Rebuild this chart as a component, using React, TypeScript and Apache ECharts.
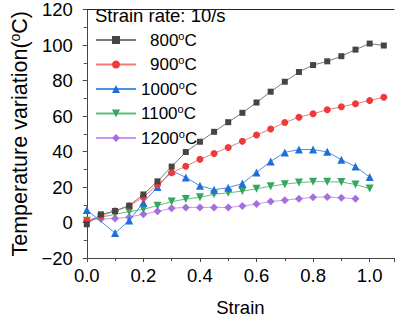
import React, { useEffect, useRef } from "react";
import * as echarts from "echarts";

const FONT = '"Liberation Sans", Arial, sans-serif';

const strain = [0, 0.05, 0.1, 0.15, 0.2, 0.25, 0.3, 0.35, 0.4, 0.45, 0.5, 0.55, 0.6, 0.65, 0.7, 0.75, 0.8, 0.85, 0.9, 0.95, 1.0, 1.05];

const t800 = [-1, 4.6, 6.5, 9.5, 15.8, 23.2, 31.5, 39.7, 45.5, 51.1, 56.5, 61.8, 67.6, 73.7, 79.3, 84.8, 88.7, 90.8, 93.7, 97.4, 100.8, 99.7];
const t900 = [1, 3.7, 6.5, 9.3, 14.3, 21.3, 28, 31.7, 35.6, 38.9, 42.3, 45.8, 49.3, 52.7, 56.3, 59.3, 61.3, 63.5, 65.2, 66.9, 68.7, 70.6];
const t1000 = [7, null, -5.9, 1.1, 11.3, 20, 29.2, 25.4, 20.7, 18.5, 19.6, 22, 28.2, 34.4, 39.5, 41.1, 41.1, 39.8, 35.4, 31.5, 25.6];
const t1100 = [1, 3, 4.6, 6.1, 7.5, 9.5, 11.8, 13.2, 14.2, 15.9, 16.7, 17.7, 19, 20.4, 21.6, 22.5, 23, 23, 22.8, 21.4, 19.1];
const t1200 = [1, 2, 2.2, 3, 4.7, 6.3, 8, 8.5, 8.5, 8.5, 8.5, 9.3, 10.4, 11.8, 12.6, 13.4, 14.2, 14.4, 13.9, 13.4];

const seriesNames = ["800°C", "900°C", "1000°C", "1100°C", "1200°C"];
const seriesValues = [t800, t900, t1000, t1100, t1200];
const yTicks = { min: -20, max: 120, interval: 20 };
const xTicks = { min: 0, max: 1.086, interval: 0.2 };

const styles = [
  { symbol: "rect", size: 6, line: "#7a7a7a", mark: "#454545" },
  { symbol: "circle", size: 7, line: "#f27a7a", mark: "#ee3a3a" },
  { symbol: "triangle", size: 8, line: "#4f8ee6", mark: "#1f6edb" },
  { symbol: "path://M0,0 L10,0 L5,10 Z", size: 8, line: "#5fbf80", mark: "#34a660" },
  { symbol: "diamond", size: 8, line: "#c49af0", mark: "#a66fe0" },
];

function toPairs(vals: (number | null)[]) {
  const out: [number, number][] = [];
  vals.forEach((v, i) => {
    if (v !== null && v !== undefined) out.push([strain[i], v]);
  });
  return out;
}

export default function App() {
  const ref = useRef<HTMLDivElement>(null);
  useEffect(() => {
    const chart = echarts.init(ref.current!, null, { renderer: "svg" });
    const option: any = {
      animation: false,
      textStyle: { fontFamily: FONT },
      grid: { left: 85, top: 6, right: 1, bottom: 63 },
      xAxis: [
        {
          type: "value",
          min: xTicks.min,
          max: xTicks.max,
          interval: xTicks.interval,
          name: "Strain",
          nameLocation: "middle",
          nameGap: 40,
          nameTextStyle: { fontSize: 18.5, color: "#000", fontFamily: FONT },
          axisLine: { show: true, onZero: false, lineStyle: { color: "#444", width: 1 } },
          axisTick: { show: true, inside: false, length: 4, lineStyle: { color: "#444" } },
          minorTick: { show: true, splitNumber: 2, length: 3, lineStyle: { color: "#444" } },
          axisLabel: {
            fontSize: 18.5,
            color: "#000",
            margin: 8,
            fontFamily: FONT,
            showMaxLabel: false,
            formatter: (v: number) => v.toFixed(1),
          },
          splitLine: { show: false },
        },
        {
          type: "value",
          position: "top",
          min: xTicks.min,
          max: xTicks.max,
          axisLine: { show: true, onZero: false, lineStyle: { color: "#222", width: 1 } },
          axisTick: { show: false },
          axisLabel: { show: false },
          splitLine: { show: false },
        },
      ],
      yAxis: {
        type: "value",
        min: yTicks.min,
        max: yTicks.max,
        interval: yTicks.interval,
        name: "{a|Temperature variation(}{s|o}{a|C)}",
        nameLocation: "middle",
        nameGap: 53,
        nameTextStyle: {
          color: "#000",
          fontFamily: FONT,
          rich: {
            a: { fontSize: 21.5, color: "#000", fontFamily: FONT, lineHeight: 23 },
            s: { fontSize: 14, color: "#000", fontFamily: FONT, lineHeight: 14, verticalAlign: "top" },
          },
        },
        axisLine: { show: true, onZero: false, lineStyle: { color: "#444", width: 1 } },
        axisTick: { show: true, inside: false, length: 4, lineStyle: { color: "#444" } },
        minorTick: { show: true, splitNumber: 2, length: 3, lineStyle: { color: "#444" } },
        axisLabel: {
          fontSize: 18.5,
          color: "#000",
          margin: 14,
          fontFamily: FONT,
          formatter: (v: number) => String(v).replace("-", "\u2212"),
        },
        splitLine: { show: false },
      },
      legend: {
        orient: "vertical",
        left: 95,
        top: 30,
        padding: 0,
        itemWidth: 40,
        itemHeight: 10,
        itemGap: 6,
        data: seriesNames,
        formatter: (name: string) => {
          const num = name.replace("°C", "");
          const pad = num.length < 4 ? "{p| }" : "";
          return `${pad}{n|${num}}{s|o}{c|C}`;
        },
        textStyle: {
          fontFamily: FONT,
          rich: {
            p: { fontSize: 17, fontFamily: FONT, lineHeight: 20, width: 9 },
            n: { fontSize: 17, color: "#000", fontFamily: FONT, lineHeight: 20 },
            s: { fontSize: 11, color: "#000", fontFamily: FONT, lineHeight: 11, verticalAlign: "top" },
            c: { fontSize: 17, color: "#000", fontFamily: FONT, lineHeight: 20 },
          },
        },
      },
      graphic: [
        {
          type: "text",
          left: 95,
          top: 6,
          style: { text: "Strain rate: 10/s", fontSize: 18.5, fontFamily: FONT, fill: "#000" },
        },
      ],
      series: seriesNames.map((name, i) => ({
        name,
        type: "line",
        data: toPairs(seriesValues[i]),
        symbol: styles[i].symbol,
        symbolSize: styles[i].size,
        showSymbol: true,
        lineStyle: { color: styles[i].line, width: 1 },
        itemStyle: { color: styles[i].mark },
        z: 2 + (4 - i),
      })),
    };
    chart.setOption(option);
    return () => chart.dispose();
  }, []);
  return <div ref={ref} style={{ position: "absolute", left: 0, top: 0, width: 395, height: 322 }} />;
}
